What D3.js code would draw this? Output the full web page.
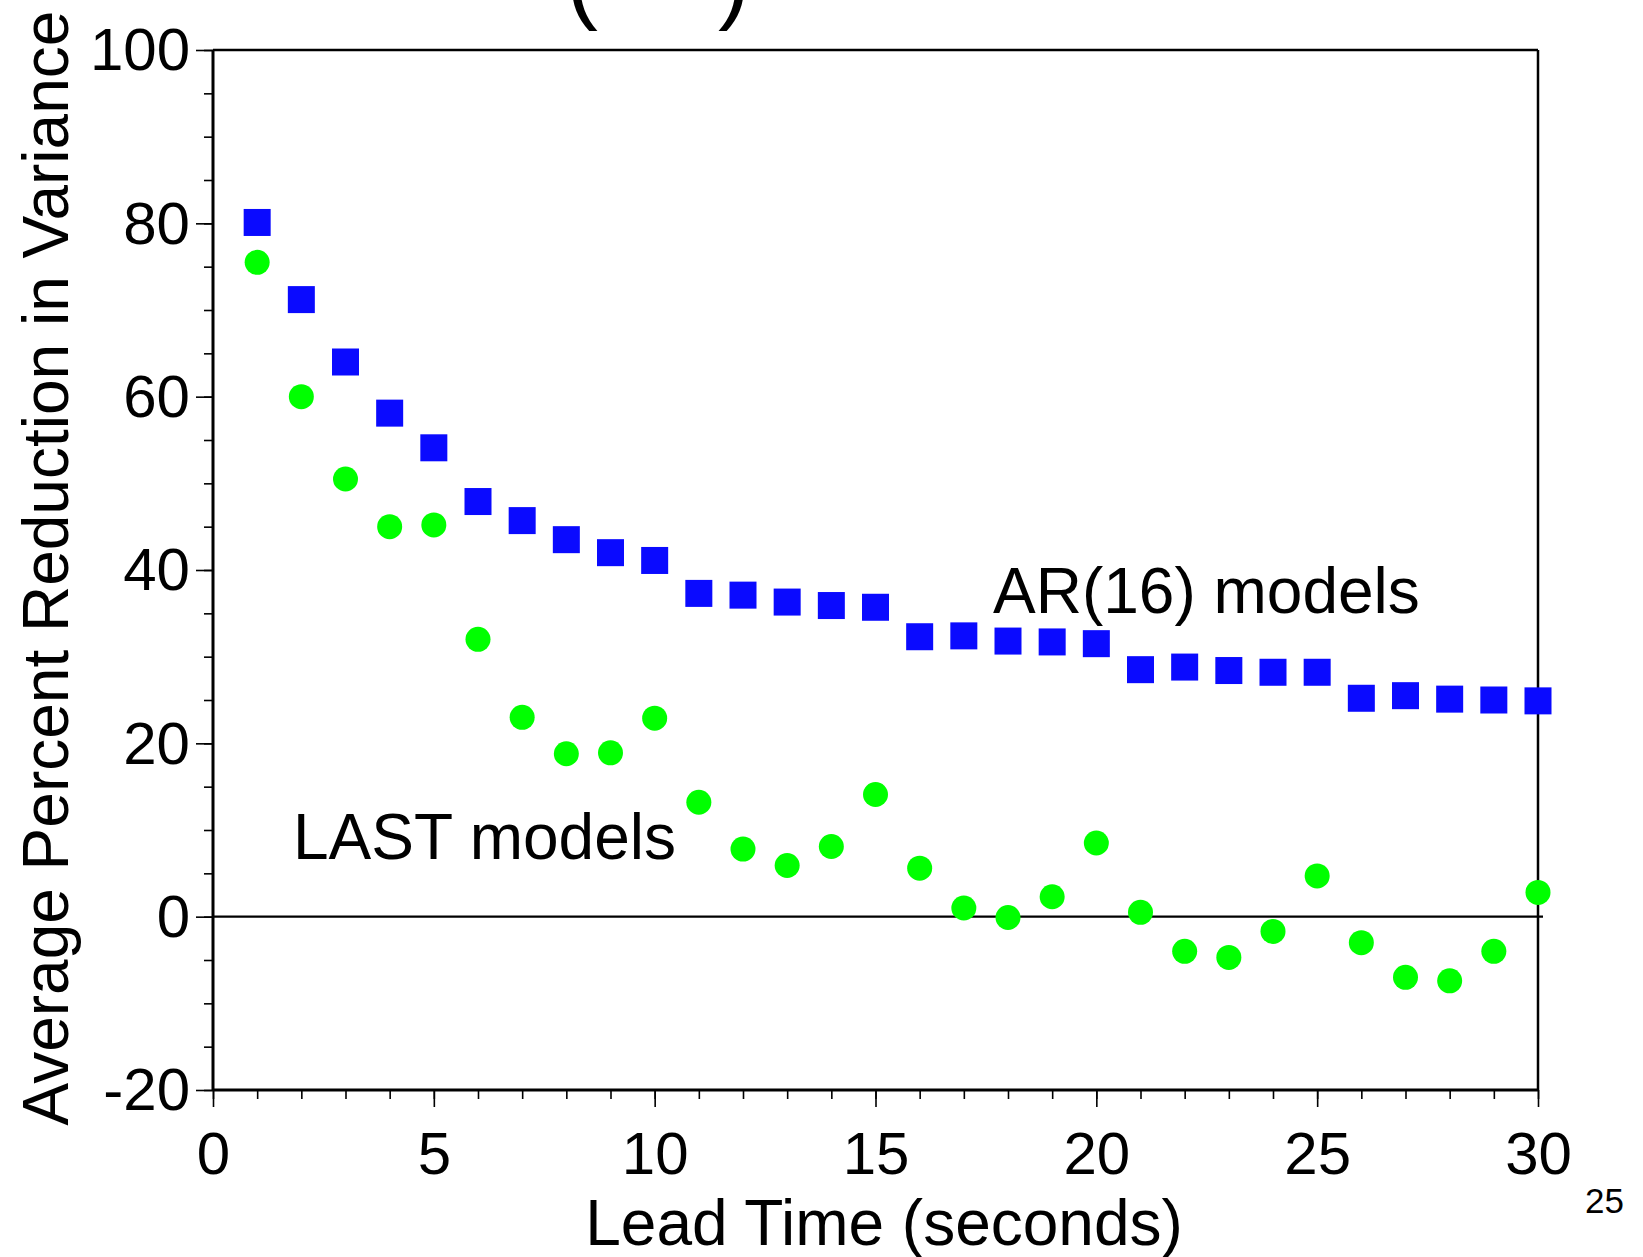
<!DOCTYPE html>
<html>
<head>
<meta charset="utf-8">
<script src="https://cdn.jsdelivr.net/npm/d3@7"></script>
<style>
    html, body { margin: 0; padding: 0; background: #fff; }
    svg { display: block; font-family: "Liberation Sans", Arial, sans-serif; }
</style>
</head>
<body>
<svg id="chart" width="1643" height="1257"></svg>
<script>
// lead time in seconds
const leadTimes = [1, 2, 3, 4, 5, 6, 7, 8, 9, 10, 11, 12, 13, 14, 15,
                   16, 17, 18, 19, 20, 21, 22, 23, 24, 25, 26, 27, 28, 29, 30];
// AR(16) models, blue squares
const arValues = [80.1, 71.2, 64.0, 58.1, 54.1, 47.9, 45.7, 43.5, 42.0, 41.1,
                  37.3, 37.1, 36.3, 35.9, 35.7, 32.3, 32.4, 31.8, 31.7, 31.5,
                  28.5, 28.8, 28.4, 28.2, 28.2, 25.2, 25.5, 25.1, 25.0, 24.9];
// LAST models, green circles
const lastValues = [75.5, 60.0, 50.5, 45.0, 45.2, 32.0, 23.0, 18.8, 18.9, 22.9,
                    13.2, 7.8, 5.9, 8.1, 14.1, 5.6, 1.0, -0.1, 2.3, 8.5,
                    0.5, -4.0, -4.7, -1.7, 4.7, -3.0, -7.0, -7.4, -4.0, 2.8];
// tick labels
const xTicks = [0, 5, 10, 15, 20, 25, 30];
const yTicks = [-20, 0, 20, 40, 60, 80, 100];

function drawChart() {
    var svg = d3.select("#chart"),
        margin = {top: 50, left: 213},
        width = 1325,
        height = 1040;

    var x = d3.scaleLinear().domain([0, 30]).range([0, width]);
    var y = d3.scaleLinear().domain([-20, 100]).range([height, 0]);

    var g = svg.append("g")
        .attr("transform", "translate(" + margin.left + "," + margin.top + ")");

    //minor ticks first, no labels
    g.append("g")
        .attr("class", "minor")
        .call(d3.axisLeft(y).tickValues(d3.range(-20, 101, 5)).tickSize(9).tickFormat(""));
    g.append("g")
        .attr("class", "minor")
        .attr("transform", "translate(0," + height + ")")
        .call(d3.axisBottom(x).tickValues(d3.range(0, 31, 1)).tickSize(9).tickFormat(""));

    //major ticks with labels (plain hyphen for negatives)
    g.append("g")
        .attr("class", "major y")
        .call(d3.axisLeft(y).tickValues(yTicks).tickSize(17).tickPadding(6)
            .tickFormat(d => String(d)));
    g.append("g")
        .attr("class", "major x")
        .attr("transform", "translate(0," + height + ")")
        .call(d3.axisBottom(x).tickValues(xTicks).tickSize(17).tickPadding(8)
            .tickFormat(d => String(d)));

    g.selectAll(".domain").remove();
    g.selectAll(".tick line").attr("stroke", "#000").attr("stroke-width", 1.6);
    g.selectAll(".major .tick text")
        .attr("fill", "#000")
        .style("font-size", "60px");
    g.selectAll(".major.y .tick text").attr("dy", "0.33em");
    g.selectAll(".major.x .tick text").attr("dy", "0.98em");

    //frame
    g.append("line").attr("x1", 0).attr("x2", 0).attr("y1", 0).attr("y2", height)
        .attr("stroke", "#000").attr("stroke-width", 3);
    g.append("line").attr("x1", 0).attr("x2", width).attr("y1", height).attr("y2", height)
        .attr("stroke", "#000").attr("stroke-width", 3);
    g.append("line").attr("x1", 0).attr("x2", width).attr("y1", 0).attr("y2", 0)
        .attr("stroke", "#000").attr("stroke-width", 2.5);
    g.append("line").attr("x1", width).attr("x2", width).attr("y1", 0).attr("y2", height)
        .attr("stroke", "#000").attr("stroke-width", 2.5);

    //zero line, runs a bit past the right edge
    g.append("line")
        .attr("x1", x(0)).attr("x2", x(30) + 5)
        .attr("y1", y(0)).attr("y2", y(0))
        .attr("stroke", "#000").attr("stroke-width", 2.2);

    //LAST models
    g.selectAll(".dot")
        .data(lastValues)
        .enter().append("circle")
        .attr("class", "dot")
        .attr("cx", (d, i) => x(leadTimes[i]))
        .attr("cy", d => y(d))
        .attr("r", 12.5)
        .attr("fill", "#00ff00");

    //AR(16) models
    var s = 27;
    g.selectAll(".sq")
        .data(arValues)
        .enter().append("rect")
        .attr("class", "sq")
        .attr("x", (d, i) => x(leadTimes[i]) - s / 2)
        .attr("y", d => y(d) - s / 2)
        .attr("width", s)
        .attr("height", s)
        .attr("fill", "#0a0aff");

    //series labels
    svg.append("text")
        .attr("x", 993).attr("y", 613)
        .style("font-size", "64px")
        .text("AR(16) models");
    svg.append("text")
        .attr("x", 293).attr("y", 859)
        .style("font-size", "64px")
        .text("LAST models");

    //axis titles
    svg.append("text")
        .attr("x", 884).attr("y", 1245)
        .attr("text-anchor", "middle")
        .style("font-size", "64px")
        .text("Lead Time (seconds)");
    svg.append("text")
        .attr("transform", "translate(68,568) rotate(-90)")
        .attr("text-anchor", "middle")
        .style("font-size", "64px")
        .text("Average Percent Reduction in Variance");

    //title cut off at the top, only the parentheses show
    svg.append("text")
        .attr("x", 566).attr("y", 11)
        .style("font-size", "96px")
        .text("(");
    svg.append("text")
        .attr("x", 718).attr("y", 11)
        .style("font-size", "96px")
        .text(")");

    //slide number
    svg.append("text")
        .attr("x", 1585).attr("y", 1213)
        .style("font-size", "35px")
        .text("25");
}

drawChart();
</script>
</body>
</html>
